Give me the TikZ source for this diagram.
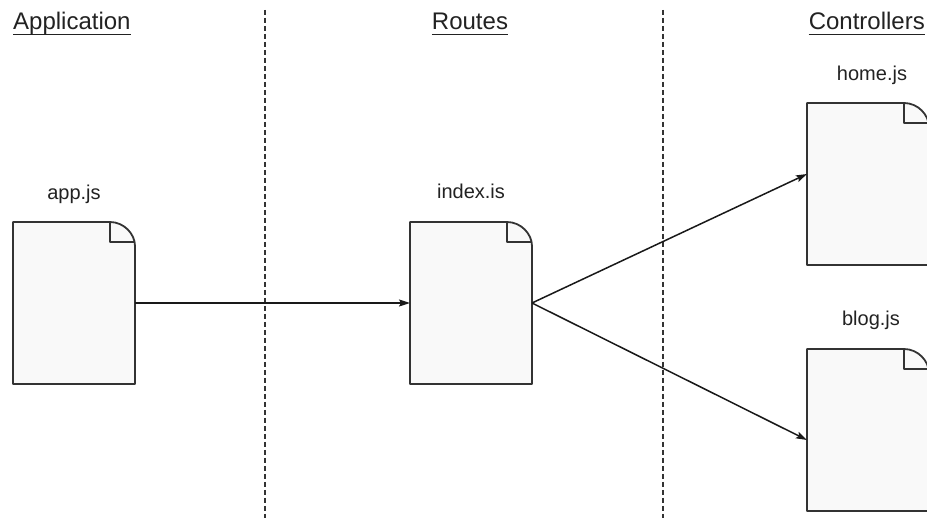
\documentclass[tikz,border=0pt]{standalone}
\usepackage{fontspec}
\setmainfont{Liberation Sans}
\usetikzlibrary{calc,arrows.meta}
\definecolor{inkgray}{HTML}{222222}
\definecolor{linegray}{HTML}{333333}
\definecolor{paper}{HTML}{F9F9F9}
\tikzset{
  docbox/.style={minimum width=122pt,minimum height=162pt,inner sep=0pt,outer sep=0pt,draw=none},
  header/.style={font=\fontsize{24}{29}\selectfont,text=inkgray,inner sep=0pt},
  doclabel/.style={font=\fontsize{20}{24}\selectfont,text=inkgray,inner sep=0pt,anchor=base},
  divider/.style={draw=linegray,line width=1.3pt,dash pattern=on 5pt off 3pt},
  conn/.style={draw=black!90,line width=1.5pt,-{Stealth[length=11pt,width=7pt,inset=2pt]}},
  docline/.style={draw=linegray,line width=1.8pt,line join=round,fill=paper},
  uline/.style={draw=inkgray,line width=1.4pt}
}
\newcommand\docshape[1]{%
  \draw[docline] (#1.north west) -- ($(#1.north east)+(-25,0)$)
    .. controls +(14,0) and +(0,-12) .. ($(#1.north east)+(0,24)$)
    -- (#1.south east) -- (#1.south west) -- cycle;
  \draw[docline,fill=none] ($(#1.north east)+(-25,0)$) -- ++(0,20) -- ++(25,0);
}
\begin{document}
\begin{tikzpicture}[x=1pt,y=-1pt]
\useasboundingbox (0,0) rectangle (927,518);
\clip (0,0) rectangle (927,518);
\fill[white] (0,0) rectangle (927,518);

% dividers
\coordinate (d1top) at (265,10);
\coordinate (d1bot) at (265,520);
\coordinate (d2top) at (663,10);
\coordinate (d2bot) at (663,520);
\draw[divider] (d1top) -- (d1bot);
\draw[divider] (d2top) -- (d2bot);

% headers
\node[header,anchor=base west] (happ) at (13,30) {Application};
\node[header,anchor=base] (hroutes) at (470,30) {Routes};
\node[header,anchor=base east] (hctrl) at (925,30) {Controllers};
\foreach \h in {happ,hroutes,hctrl}{
  \draw[uline] ([yshift=-4.5pt]\h.base west) -- ([yshift=-4.5pt]\h.base east);
}

% documents
\node[docbox] (app) at (74,303) {};
\node[docbox] (index) at (471,303) {};
\node[docbox] (home) at (868,184) {};
\node[docbox] (blog) at (868,430) {};
\docshape{app}
\docshape{index}
\docshape{home}
\docshape{blog}

% labels
\node[doclabel] (lapp) at (74,200) {app.js};
\node[doclabel] (lindex) at (471,199) {index.is};
\node[doclabel] (lhome) at (872,81) {home.js};
\node[doclabel] (lblog) at (871,326) {blog.js};

% connectors
\draw[conn] (app.east) -- (index.west);
\draw[conn] (index.east) -- ([yshift=10pt]home.west);
\draw[conn] (index.east) -- ([yshift=-10pt]blog.west);
\end{tikzpicture}
\end{document}
